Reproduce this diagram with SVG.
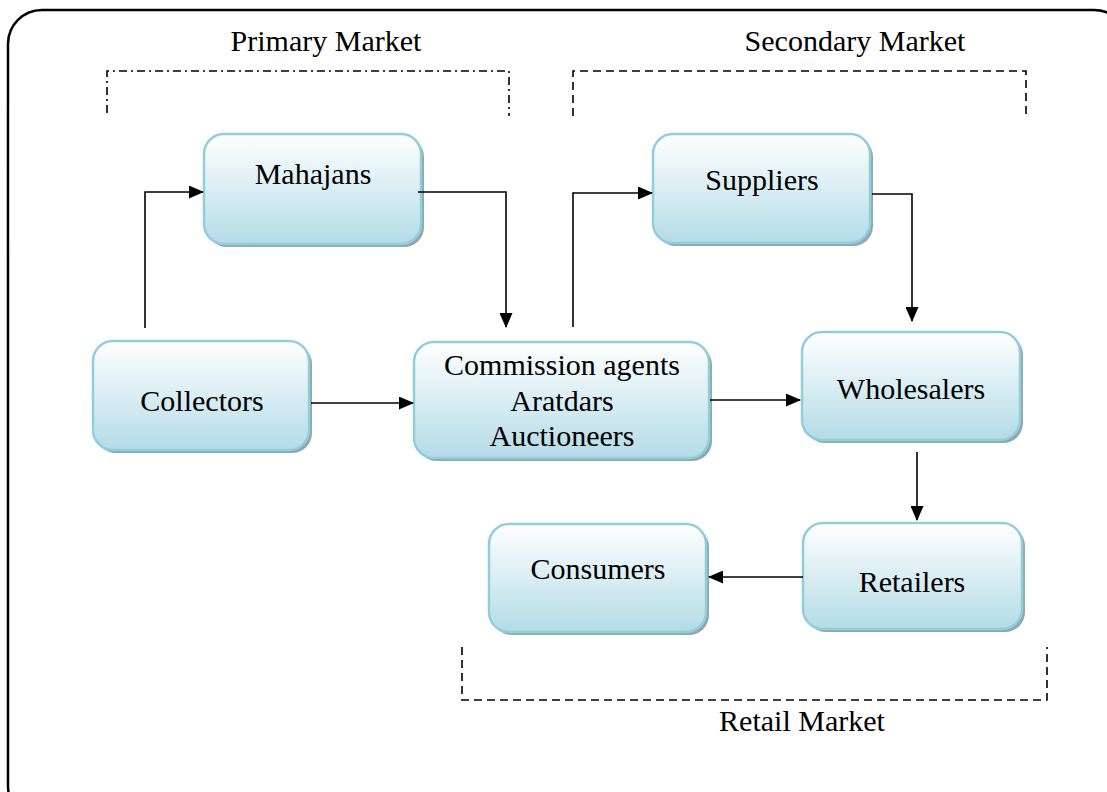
<svg xmlns="http://www.w3.org/2000/svg" width="1107" height="792" viewBox="0 0 1107 792">
<defs>
<linearGradient id="g" x1="0" y1="0" x2="0" y2="1">
<stop offset="0" stop-color="#ffffff"/>
<stop offset="0.55" stop-color="#d6ecf2"/>
<stop offset="1" stop-color="#b4dbe6"/>
</linearGradient>
<marker id="ah" markerWidth="15" markerHeight="13" refX="14" refY="6.5" orient="auto" markerUnits="userSpaceOnUse">
<path d="M0,0 L15,6.5 L0,13 Z" fill="#000"/>
</marker>
<style>
.box{fill:url(#g);stroke:#92cddc;stroke-width:2.5}
.sh{fill:#8fa8ae}
.t{font-family:"Liberation Serif","Times New Roman",serif;font-size:30px;fill:#000;text-anchor:middle}
.c{fill:none;stroke:#000;stroke-width:1.6}
.dd{fill:none;stroke:#000;stroke-width:1.6;stroke-dasharray:8 4 2 4}
.d{fill:none;stroke:#000;stroke-width:1.6;stroke-dasharray:8 5}
</style>
</defs>
<rect x="8" y="10" width="1120" height="810" rx="34" fill="#fff" stroke="#000" stroke-width="2.5"/>
<g id="brackets">
<path class="dd" d="M107,113 V71 H509 V116"/>
<path class="d" d="M573,116 V71 H1026 V116"/>
<path class="d" d="M462,647 V700 H1047 V647"/>
</g>
<g id="labels">
<text class="t" x="326" y="51">Primary Market</text>
<text class="t" x="855" y="51">Secondary Market</text>
<text class="t" x="802" y="731">Retail Market</text>
</g>
<g id="mahajans">
<rect class="sh" x="207" y="137" width="217" height="110" rx="20"/>
<rect class="box" x="204" y="134" width="217" height="110" rx="20"/>
<text class="t" x="313" y="184">Mahajans</text>
</g>
<g id="collectors">
<rect class="sh" x="96" y="344" width="216" height="109" rx="20"/>
<rect class="box" x="93" y="341" width="216" height="109" rx="20"/>
<text class="t" x="202" y="411">Collectors</text>
</g>
<g id="commission">
<rect class="sh" x="417" y="345" width="295" height="116" rx="20"/>
<rect class="box" x="414" y="342" width="295" height="116" rx="20"/>
<text class="t" x="562" y="375">Commission agents</text>
<text class="t" x="562" y="411">Aratdars</text>
<text class="t" x="562" y="446">Auctioneers</text>
</g>
<g id="suppliers">
<rect class="sh" x="656" y="137" width="217" height="109" rx="20"/>
<rect class="box" x="653" y="134" width="217" height="109" rx="20"/>
<text class="t" x="762" y="190">Suppliers</text>
</g>
<g id="wholesalers">
<rect class="sh" x="805" y="335" width="218" height="108" rx="20"/>
<rect class="box" x="802" y="332" width="218" height="108" rx="20"/>
<text class="t" x="911" y="399">Wholesalers</text>
</g>
<g id="retailers">
<rect class="sh" x="806" y="526" width="219" height="106" rx="20"/>
<rect class="box" x="803" y="523" width="219" height="106" rx="20"/>
<text class="t" x="912" y="592">Retailers</text>
</g>
<g id="consumers">
<rect class="sh" x="492" y="527" width="217" height="108" rx="20"/>
<rect class="box" x="489" y="524" width="217" height="108" rx="20"/>
<text class="t" x="598" y="579">Consumers</text>
</g>
<g id="connectors">
<path class="c" d="M145,328 V192 H203" marker-end="url(#ah)"/>
<path class="c" d="M418,192 H506 V327" marker-end="url(#ah)"/>
<path class="c" d="M573,327 V193 H652" marker-end="url(#ah)"/>
<path class="c" d="M872,194 H912 V321" marker-end="url(#ah)"/>
<path class="c" d="M311,403 H413" marker-end="url(#ah)"/>
<path class="c" d="M710,400 H800" marker-end="url(#ah)"/>
<path class="c" d="M917,452 V520" marker-end="url(#ah)"/>
<path class="c" d="M803,577 H709" marker-end="url(#ah)"/>
</g>
</svg>
